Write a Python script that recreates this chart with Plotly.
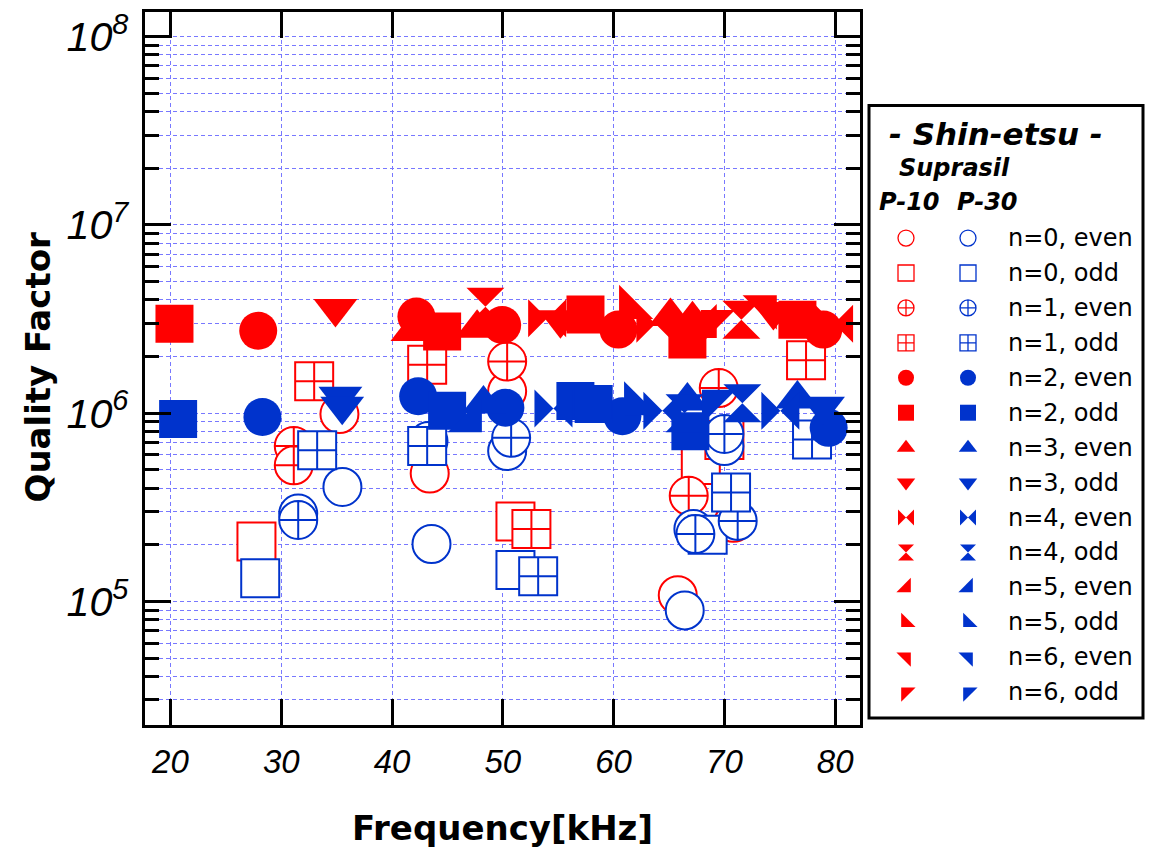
import plotly.graph_objects as go

# ---------------- data ----------------
MODES = ["n=0, even", "n=0, odd", "n=1, even", "n=1, odd", "n=2, even", "n=2, odd",
         "n=3, even", "n=3, odd", "n=4, even", "n=4, odd", "n=5, even", "n=5, odd",
         "n=6, even", "n=6, odd"]
SYMBOLS = ["circle", "square", "circle-cross", "square-cross", "circle", "square",
           "triangle-up", "triangle-down", "bowtie", "hourglass", "triangle-se",
           "triangle-sw", "triangle-ne", "triangle-nw"]
HOLLOW = [True, True, True, True, False, False, False, False, False, False,
          False, False, False, False]

# Suprasil P-10 (red): frequency [kHz], quality factor
P10_N0E_F = [35.25, 43.40, 50.39, 65.79, 70.81]
P10_N0E_Q = [9.9e5, 4.78e5, 1.31e6, 1.08e5, 2.62e5]
P10_N0O_F = [27.76, 51.14, 67.87, 70.0]
P10_N0O_Q = [2.08e5, 2.66e5, 5.31e5, 7.2e5]
P10_N1E_F = [31.13, 31.13, 50.39, 66.78, 69.49]
P10_N1E_Q = [6.69e5, 5.29e5, 1.88e6, 3.64e5, 1.36e6]
P10_N1O_F = [32.97, 43.17, 52.58, 77.37]
P10_N1O_Q = [1.48e6, 1.81e6, 2.43e5, 1.91e6]
P10_N2E_F = [27.92, 42.20, 49.94, 60.43, 78.93]
P10_N2E_Q = [2.74e6, 3.26e6, 2.94e6, 2.78e6, 2.78e6]
P10_N2O_F = [20.36, 44.52, 57.46, 66.66, 76.59]
P10_N2O_Q = [2.99e6, 2.72e6, 3.34e6, 2.46e6, 3.14e6]
P10_N3E_F = [41.84, 47.68, 65.13, 67.12]
P10_N3E_Q = [2.72e6, 2.83e6, 3.26e6, 3.14e6]
P10_N3O_F = [34.89, 55.20, 74.42]
P10_N3O_Q = [3.6e6, 3.14e6, 3.47e6]
P10_N4E_F = [54.0, 63.77, 79.9]
P10_N4E_Q = [3.19e6, 2.99e6, 2.99e6]
P10_N4O_F = [48.43, 71.53]
P10_N4O_Q = [3.68e6, 3.14e6]
P10_N5E_F = [68.28]
P10_N5E_Q = [2.88e6]
P10_N5O_F = [61.52]
P10_N5O_Q = [3.64e6]
P10_N6E_F = [73.7]
P10_N6E_Q = [3.68e6]
P10_N6O_F = [68.9]
P10_N6O_Q = [3.07e6]

# Suprasil P-30 (blue)
P30_N0E_F = [31.53, 35.52, 43.29, 50.39, 43.56, 66.42, 67.2, 70.0]
P30_N0E_Q = [2.93e5, 4.06e5, 7.11e5, 6.3e5, 2.02e5, 8.97e4, 2.43e5, 6.69e5]
P30_N0O_F = [28.10, 51.14, 68.49]
P30_N0O_Q = [1.33e5, 1.47e5, 2.26e5]
P30_N1E_F = [31.53, 50.75, 67.38, 70.0, 71.2]
P30_N1E_Q = [2.71e5, 7.4e5, 2.28e5, 7.76e5, 2.68e5]
P30_N1O_F = [33.24, 43.17, 53.19, 70.60, 77.91]
P30_N1O_Q = [6.36e5, 6.69e5, 1.36e5, 3.79e5, 7.26e5]
P30_N2E_F = [28.30, 42.36, 50.23, 60.79, 79.41]
P30_N2E_Q = [9.55e5, 1.23e6, 1.07e6, 9.64e5, 8.36e5]
P30_N2O_F = [20.69, 44.97, 56.55, 58.2, 66.93]
P30_N2O_Q = [9.33e5, 1.03e6, 1.16e6, 1.12e6, 8.03e5]
P30_N3E_F = [48.25, 66.66, 76.59]
P30_N3E_Q = [1.12e6, 1.16e6, 1.19e6]
P30_N3O_F = [35.34, 35.5, 78.9]
P30_N3O_Q = [1.23e6, 1.09e6, 1.09e6]
P30_N4E_F = [54.57, 64.4, 75.05]
P30_N4E_Q = [1.06e6, 1.03e6, 1.03e6]
P30_N4O_F = [66.4, 71.62]
P30_N4O_Q = [1.0e6, 1.13e6]
P30_N5E_F = [47.08]
P30_N5E_Q = [9.1e5]
P30_N5O_F = [61.97]
P30_N5O_Q = [1.12e6]
P30_N6E_F = [58.8]
P30_N6E_Q = [1.23e6]
P30_N6O_F = [69.0]
P30_N6O_Q = [1.16e6]

P10_SERIES = [(P10_N0E_F, P10_N0E_Q), (P10_N0O_F, P10_N0O_Q), (P10_N1E_F, P10_N1E_Q),
              (P10_N1O_F, P10_N1O_Q), (P10_N2E_F, P10_N2E_Q), (P10_N2O_F, P10_N2O_Q),
              (P10_N3E_F, P10_N3E_Q), (P10_N3O_F, P10_N3O_Q), (P10_N4E_F, P10_N4E_Q),
              (P10_N4O_F, P10_N4O_Q), (P10_N5E_F, P10_N5E_Q), (P10_N5O_F, P10_N5O_Q),
              (P10_N6E_F, P10_N6E_Q), (P10_N6O_F, P10_N6O_Q)]
P30_SERIES = [(P30_N0E_F, P30_N0E_Q), (P30_N0O_F, P30_N0O_Q), (P30_N1E_F, P30_N1E_Q),
              (P30_N1O_F, P30_N1O_Q), (P30_N2E_F, P30_N2E_Q), (P30_N2O_F, P30_N2O_Q),
              (P30_N3E_F, P30_N3E_Q), (P30_N3O_F, P30_N3O_Q), (P30_N4E_F, P30_N4E_Q),
              (P30_N4O_F, P30_N4O_Q), (P30_N5E_F, P30_N5E_Q), (P30_N5O_F, P30_N5O_Q),
              (P30_N6E_F, P30_N6E_Q), (P30_N6O_F, P30_N6O_Q)]

X_TICKS = [20, 30, 40, 50, 60, 70, 80]

RED = "#ff0000"
BLUE = "#0033cc"
GRID = "#7878ff"

# ---------------- layout geometry (pixels) ----------------
W, H = 1155, 851
ML, MR, MT, MB = 145, 8, 9, 126
PW = W - ML - MR
PH = H - MT - MB
PLOT_RIGHT = 860
LEG_L, LEG_R, LEG_T, LEG_B = 869, 1143, 103, 718


def px_x(p):
    return (p - ML) / PW


def px_y(p):
    return (H - MB - p) / PH


def marker(sym, hollow, color, size, lw):
    if hollow:
        return dict(symbol=sym, size=size, color="white", line=dict(color=color, width=lw))
    return dict(symbol=sym, size=size, color=color, line=dict(color=color, width=0))


fig = go.Figure()

for series, color in ((P10_SERIES, RED), (P30_SERIES, BLUE)):
    for i, (f, q) in enumerate(series):
        fig.add_trace(go.Scatter(x=f, y=q, mode="markers", name=MODES[i],
                                 marker=marker(SYMBOLS[i], HOLLOW[i], color, 38, 2),
                                 showlegend=False, xaxis="x", yaxis="y"))

# ---------------- custom two-column legend ----------------
ROW0, ROWSTEP = 236, 35.08
COL_RED, COL_BLUE, COL_TEXT = 906, 968, 1006
rows_y = [ROW0 + ROWSTEP * i for i in range(len(MODES))]
for i, m in enumerate(MODES):
    for cx, color in ((COL_RED, RED), (COL_BLUE, BLUE)):
        fig.add_trace(go.Scatter(x=[cx], y=[rows_y[i]], mode="markers",
                                 marker=marker(SYMBOLS[i], HOLLOW[i], color, 16, 1.3),
                                 showlegend=False, xaxis="x2", yaxis="y2", hoverinfo="skip"))
    fig.add_annotation(x=COL_TEXT, y=rows_y[i], xref="x2", yref="y2", text=m,
                       showarrow=False, xanchor="left", yanchor="middle",
                       font=dict(family="DejaVu Sans", size=24, color="black"))

fig.add_annotation(x=996, y=132, xref="x2", yref="y2", text="<b><i>- Shin-etsu -</i></b>",
                   showarrow=False, xanchor="center", yanchor="middle",
                   font=dict(family="DejaVu Sans", size=31, color="black"))
fig.add_annotation(x=897, y=166, xref="x2", yref="y2", text="<b><i>Suprasil</i></b>",
                   showarrow=False, xanchor="left", yanchor="middle",
                   font=dict(family="DejaVu Sans", size=24, color="black"))
fig.add_annotation(x=909, y=200, xref="x2", yref="y2", text="<b><i>P-10</i></b>",
                   showarrow=False, xanchor="center", yanchor="middle",
                   font=dict(family="DejaVu Sans", size=24, color="black"))
fig.add_annotation(x=987, y=200, xref="x2", yref="y2", text="<b><i>P-30</i></b>",
                   showarrow=False, xanchor="center", yanchor="middle",
                   font=dict(family="DejaVu Sans", size=24, color="black"))

fig.add_shape(type="rect", xref="paper", yref="paper",
              x0=px_x(LEG_L), x1=px_x(LEG_R), y0=px_y(LEG_B), y1=px_y(LEG_T),
              line=dict(color="black", width=3), fillcolor="rgba(0,0,0,0)", layer="below")

# ---------------- axis titles ----------------
fig.add_annotation(x=px_x(502), y=px_y(828), xref="paper", yref="paper",
                   text="<b>Frequency[kHz]</b>", showarrow=False,
                   xanchor="center", yanchor="middle",
                   font=dict(family="DejaVu Sans", size=34, color="black"))
fig.add_annotation(x=px_x(38), y=px_y(366), xref="paper", yref="paper",
                   text="<b>Quality Factor</b>", showarrow=False, textangle=-90,
                   xanchor="center", yanchor="middle",
                   font=dict(family="DejaVu Sans", size=34, color="black"))

tickfont = dict(family="Liberation Sans, Arial", size=33, color="black", style="italic")

fig.update_layout(
    width=W, height=H,
    margin=dict(l=ML, r=MR, t=MT, b=MB, pad=0),
    plot_bgcolor="white", paper_bgcolor="white",
    showlegend=False,
    xaxis=dict(domain=[0, px_x(PLOT_RIGHT)], range=[17.7, 82.24],
               tickvals=X_TICKS, ticktext=[str(v) for v in X_TICKS],
               ticks="inside", ticklen=26, tickwidth=3, tickcolor="black",
               showline=True, linewidth=3, linecolor="black", mirror="allticks",
               showgrid=True, gridcolor=GRID, gridwidth=1, griddash="4px,3px",
               zeroline=False, tickfont=tickfont, ticklabelstandoff=5,
               anchor="y"),
    yaxis=dict(type="log", range=[4.344, 8.131], dtick=1, exponentformat="power",
               ticks="inside", ticklen=26, tickwidth=3, tickcolor="black",
               showline=True, linewidth=3, linecolor="black", mirror="allticks",
               showgrid=True, gridcolor=GRID, gridwidth=1, griddash="4px,3px",
               zeroline=False, tickfont=tickfont, ticklabelstandoff=7,
               minor=dict(dtick="D1", ticks="inside", ticklen=14, tickwidth=3,
                          tickcolor="black", showgrid=True, gridcolor=GRID,
                          gridwidth=1, griddash="4px,3px"),
               anchor="x"),
    xaxis2=dict(domain=[px_x(866), 1.0], range=[866, W - MR], visible=False,
                fixedrange=True, anchor="y2"),
    yaxis2=dict(domain=[0, px_y(100)], range=[H - MB, 100], visible=False,
                fixedrange=True, anchor="x2"),
)

fig.write_html("out.html")
